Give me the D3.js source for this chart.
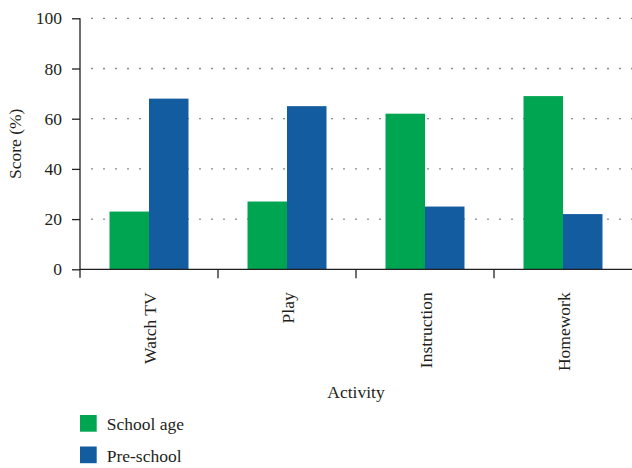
<!DOCTYPE html>
<html>
<head>
<meta charset="utf-8">
<script src="https://cdn.jsdelivr.net/npm/d3@7"></script>
<style>
  html, body { margin: 0; padding: 0; background: #fff; }
  svg { display: block; }
</style>
</head>
<body>
<script>
// Activity categories and scores (%) per group
const activities = ["Watch TV", "Play", "Instruction", "Homework"];
const seriesNames = ["School age", "Pre-school"];
const schoolAge = [23, 27, 62, 69];
const preSchool = [68, 65, 25, 22];
const yTicks = [0, 20, 40, 60, 80, 100];
const colors = ["#00a551", "#135ca0"];

const W = 632, H = 468;
const margin = { left: 80, top: 18.3, right: 0, bottom: 198.7 };
const plotBottom = H - margin.bottom; // y of zero line
const serif = "Liberation Serif";
const fs = 17.5;
const ink = "#231f20";

const svg = d3.select("body").append("svg")
  .attr("width", W).attr("height", H);

const x = d3.scaleBand()
  .domain(activities)
  .range([margin.left, W - margin.right])
  .paddingInner(0).paddingOuter(0);

const xInner = d3.scaleBand()
  .domain(seriesNames)
  .range([0, x.bandwidth()])
  .paddingOuter(0.747).paddingInner(0);

const y = d3.scaleLinear()
  .domain([0, 100])
  .range([plotBottom, margin.top]);

function label(sel) {
  return sel.attr("font-family", serif).attr("font-size", fs).attr("fill", ink);
}

// dotted gridlines
svg.append("g")
  .selectAll("line")
  .data(yTicks.filter(d => d > 0))
  .join("line")
  .attr("x1", 91).attr("x2", W)
  .attr("y1", d => y(d)).attr("y2", d => y(d))
  .attr("stroke", "#8a8a8a")
  .attr("stroke-width", 1.3)
  .attr("stroke-dasharray", "2,10");

// bars
const rows = activities.map((a, i) => ({
  activity: a,
  values: [
    { series: seriesNames[0], value: schoolAge[i] },
    { series: seriesNames[1], value: preSchool[i] }
  ]
}));

svg.append("g")
  .selectAll("g")
  .data(rows)
  .join("g")
  .attr("transform", d => `translate(${x(d.activity)},0)`)
  .selectAll("rect")
  .data(d => d.values)
  .join("rect")
  .attr("x", d => xInner(d.series))
  .attr("width", xInner.bandwidth())
  .attr("y", d => y(d.value))
  .attr("height", d => y(0) - y(d.value))
  .attr("fill", (d, i) => colors[i]);

// y axis
const yAxis = svg.append("g")
  .attr("transform", `translate(${margin.left},0)`)
  .call(d3.axisLeft(y).tickValues(yTicks).tickSize(8).tickPadding(10));
yAxis.attr("font-family", serif).attr("font-size", fs);
yAxis.select(".domain").attr("stroke", ink).attr("stroke-width", 1.3)
  .attr("d", `M0,${margin.top}V${plotBottom + 8.5}`);
yAxis.selectAll(".tick line").attr("stroke", ink).attr("stroke-width", 1.3);
yAxis.selectAll(".tick text").call(label);

// x axis: baseline and boundary ticks between categories
const xg = svg.append("g");
xg.append("line")
  .attr("x1", margin.left).attr("x2", W)
  .attr("y1", plotBottom).attr("y2", plotBottom)
  .attr("stroke", ink).attr("stroke-width", 1.3);
xg.selectAll("line.bound")
  .data(activities.slice(1))
  .join("line")
  .attr("class", "bound")
  .attr("x1", d => x(d)).attr("x2", d => x(d))
  .attr("y1", plotBottom).attr("y2", plotBottom + 9)
  .attr("stroke", ink).attr("stroke-width", 1.3);

// rotated category labels
xg.selectAll("text")
  .data(activities)
  .join("text")
  .attr("transform", d => `translate(${x(d) + x.bandwidth() / 2 + 6.5},${plotBottom + 23}) rotate(-90)`)
  .attr("text-anchor", "end")
  .call(label)
  .text(d => d);

// axis titles
svg.append("text")
  .attr("x", 356).attr("y", 397.5)
  .attr("text-anchor", "middle")
  .call(label)
  .text("Activity");

svg.append("text")
  .attr("transform", `translate(20.5,${(y(0) + y(100)) / 2}) rotate(-90)`)
  .attr("text-anchor", "middle")
  .call(label)
  .text("Score (%)");

// legend
const legend = svg.append("g")
  .selectAll("g")
  .data(seriesNames)
  .join("g")
  .attr("transform", (d, i) => `translate(80,${415 + i * 31.5})`);
legend.append("rect")
  .attr("width", 16.7).attr("height", 16.7)
  .attr("fill", (d, i) => colors[i]);
legend.append("text")
  .attr("x", 26.7).attr("y", 15.3)
  .call(label)
  .text(d => d);
</script>
</body>
</html>
